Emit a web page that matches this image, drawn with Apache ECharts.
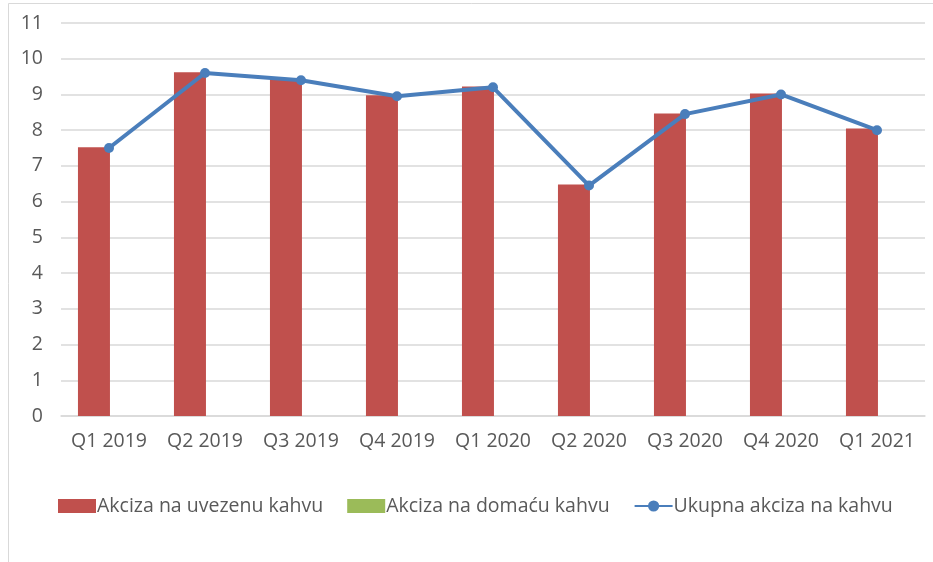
<!DOCTYPE html>
<html>
<head>
<meta charset="utf-8">
<style>
  html, body { margin: 0; padding: 0; background: #fff; }
  #chart { width: 933px; height: 562px; }
</style>
<script src="https://cdn.jsdelivr.net/npm/echarts@6/dist/echarts.min.js"></script>
</head>
<body>
<div id="chart"></div>
<script>
// kvartali
const quarters = ['Q1 2019', 'Q2 2019', 'Q3 2019', 'Q4 2019', 'Q1 2020', 'Q2 2020', 'Q3 2020', 'Q4 2020', 'Q1 2021'];
// akciza na uvezenu kahvu
const importedExcise = [7.52, 9.62, 9.43, 8.98, 9.22, 6.48, 8.47, 9.03, 8.05];
// akciza na domacu kahvu (gotovo nula)
const domesticExcise = [0, 0, 0, 0, 0, 0, 0, 0, 0];
// ukupno
const totalExcise = [7.5, 9.6, 9.4, 8.95, 9.2, 6.45, 8.45, 9.0, 8.0];

const font = '"Open Sans", sans-serif';
let myChart = echarts.init(document.getElementById('chart'));

let option = {
    backgroundColor: '#ffffff',
    textStyle: { fontFamily: font },
    graphic: [{
        type: 'rect',
        shape: { x: 8.5, y: 3.5, width: 940, height: 600 },
        style: { fill: 'none', stroke: '#d9d9d9', lineWidth: 1 },
        silent: true
    }],
    grid: {
        left: 61,
        right: 8,
        top: 23,
        bottom: 146
    },
    legend: {
        bottom: 41,
        left: 53,
        itemGap: 24,
        itemWidth: 38,
        itemHeight: 14,
        textStyle: {
            color: '#595959',
            fontSize: 19.5,
            fontFamily: font,
            padding: [0, 0, 0, -4]
        },
        data: [
            { name: 'Akciza na uvezenu kahvu', icon: 'rect' },
            { name: 'Akciza na domaću kahvu', icon: 'rect' },
            { name: 'Ukupna akciza na kahvu' }
        ]
    },
    xAxis: {
        type: 'category',
        data: quarters,
        axisLine: { show: true, lineStyle: { color: '#d9d9d9', width: 1.5 } },
        axisTick: { show: false },
        axisLabel: {
            interval: 0,
            color: '#595959',
            fontSize: 19.5,
            fontFamily: font,
            margin: 15
        }
    },
    yAxis: {
        type: 'value',
        min: 0,
        max: 11,
        interval: 1,
        axisLine: { show: false },
        axisTick: { show: false },
        axisLabel: {
            color: '#595959',
            fontSize: 19.5,
            fontFamily: font,
            margin: 18
        },
        splitLine: { lineStyle: { color: '#d9d9d9', width: 1.5 } }
    },
    series: [
        {
            name: 'Akciza na uvezenu kahvu',
            type: 'bar',
            barWidth: 32,
            barGap: '-6%',
            itemStyle: { color: '#c0504d' },
            data: importedExcise
        },
        {
            name: 'Akciza na domaću kahvu',
            type: 'bar',
            barWidth: 32,
            barGap: '-6%',
            itemStyle: { color: '#9bbb59' },
            data: domesticExcise
        },
        {
            name: 'Ukupna akciza na kahvu',
            type: 'line',
            symbol: 'circle',
            symbolSize: 10,
            z: 5,
            lineStyle: { color: '#4a7ebb', width: 4 },
            itemStyle: { color: '#4a7ebb' },
            data: totalExcise
        }
    ]
};
option && myChart.setOption(option);
</script>
</body>
</html>
